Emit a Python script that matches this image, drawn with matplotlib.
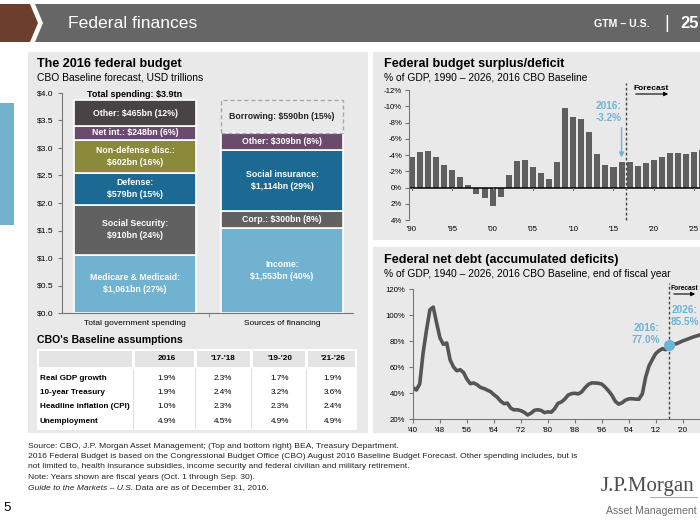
import matplotlib
matplotlib.use('Agg')
import matplotlib.pyplot as plt
from matplotlib.patches import Rectangle, Polygon

plt.rcParams['font.family'] = ['Liberation Sans', 'DejaVu Sans']

# ---------------- data ----------------
spend_labels = ["Medicare & Medicaid:\n$1,061bn (27%)", "Social Security:\n$910bn (24%)",
                "Defense:\n$579bn (15%)", "Non-defense disc.:\n$602bn (16%)",
                "Net int.: $248bn (6%)", "Other: $465bn (12%)"]
spend_values = [1.061, 0.910, 0.579, 0.602, 0.248, 0.465]
fin_labels = ["Income:\n$1,553bn (40%)", "Corp.: $300bn (8%)", "Social insurance:\n$1,114bn (29%)",
              "Other: $309bn (8%)", "Borrowing: $590bn (15%)"]
fin_values = [1.553, 0.300, 1.114, 0.309, 0.590]
bar_categories = ["Total government spending", "Sources of financing"]
budget_yticks = [0.0, 0.5, 1.0, 1.5, 2.0, 2.5, 3.0, 3.5, 4.0]

table_cols = ["2016", "'17-'18", "'19-'20", "'21-'26"]
table_rows = ["Real GDP growth", "10-year Treasury", "Headline inflation (CPI)", "Unemployment"]
table_vals = [["1.9%", "2.3%", "1.7%", "1.9%"],
              ["1.9%", "2.4%", "3.2%", "3.6%"],
              ["1.0%", "2.3%", "2.3%", "2.4%"],
              ["4.9%", "4.5%", "4.9%", "4.9%"]]

deficit_years = list(range(1990, 2027))
deficit_values = [-3.8, -4.4, -4.5, -3.8, -2.8, -2.2, -1.3, -0.3, 0.8, 1.3,
                  2.3, 1.2, -1.5, -3.3, -3.4, -2.5, -1.8, -1.1, -3.1, -9.8,
                  -8.7, -8.4, -6.8, -4.1, -2.8, -2.5, -3.2, -3.1, -2.7, -3.0,
                  -3.4, -3.7, -4.2, -4.2, -4.1, -4.4, -4.6]
deficit_xticks = [1990, 1995, 2000, 2005, 2010, 2015, 2020, 2025]
deficit_yticks = [-12, -10, -8, -6, -4, -2, 0, 2, 4]

debt_years = list(range(1940, 2027))
debt_values = [44.2, 42.3, 47.0, 70.9, 88.3, 103.9, 106.1, 93.9, 82.4, 77.4,
               78.5, 65.5, 60.1, 57.1, 57.9, 55.7, 50.6, 47.2, 47.7, 46.4,
               44.3, 43.5, 42.3, 41.0, 38.7, 36.7, 33.7, 31.8, 32.2, 28.3,
               27.0, 27.1, 26.4, 25.1, 23.1, 24.5, 26.7, 27.1, 26.6, 24.9,
               25.5, 25.2, 27.9, 32.1, 33.1, 35.3, 38.4, 39.5, 39.8, 39.3,
               40.8, 44.0, 46.6, 47.8, 47.7, 47.5, 46.8, 44.5, 41.6, 38.2,
               33.6, 31.4, 32.5, 34.5, 35.5, 35.6, 35.3, 35.2, 39.3, 52.3,
               60.9, 65.9, 70.4, 72.6, 74.1, 73.3, 77.0, 77.5, 77.8, 78.9,
               80.1, 81.0, 82.0, 83.0, 83.8, 84.6, 85.5]
debt_xticks = [1940, 1948, 1956, 1964, 1972, 1980, 1988, 1996, 2004, 2012, 2020]
debt_yticks = [20, 40, 60, 80, 100, 120]

# ---------------- styling ----------------
W, H = 700, 525
PANEL = '#e9e9e9'
LB = '#70b2cf'
GR = '#616161'
DB = '#1c6a93'
OL = '#8b8a3b'
PU = '#6a4a6d'
DK = '#4a4343'
ANN = '#6cb4d6'
spend_colors = [LB, GR, DB, OL, PU, DK]
fin_colors = [LB, GR, DB, PU, 'none']
AX = '#777777'
FN = 6.1

fig = plt.figure(figsize=(7, 5.25), dpi=100)
fig.patch.set_facecolor('white')


def rect_px(x0, y0, x1, y1):
    return [x0 / W, 1 - y1 / H, (x1 - x0) / W, (y1 - y0) / H]


bg = fig.add_axes([0, 0, 1, 1], zorder=0)
bg.set_xlim(0, W)
bg.set_ylim(H, 0)
bg.axis('off')

# header
bg.add_patch(Polygon([(0, 4), (30, 4), (38, 23), (30, 42), (0, 42)], closed=True, color='#6b3e2e', lw=0))
bg.add_patch(Polygon([(35, 4), (700, 4), (700, 42), (35, 42), (43, 23)], closed=True, color='#666666', lw=0))
bg.text(68, 23, 'Federal finances', color='white', fontsize=12.6, va='center', ha='left')
bg.text(650, 24, 'GTM – U.S.', color='white', fontsize=7.6, fontweight='bold', va='center', ha='right')
bg.text(667, 23, '|', color='white', fontsize=13, va='center', ha='center')
bg.text(680, 23, '25', color='white', fontsize=12, fontweight='bold', va='center', ha='left')

# side blue tab
bg.add_patch(Rectangle((0, 103), 14, 122, color='#72b2cc', lw=0))

# panels
bg.add_patch(Rectangle((28, 52), 340, 381, color=PANEL, lw=0))
bg.add_patch(Rectangle((373, 52), 330, 188, color=PANEL, lw=0))
bg.add_patch(Rectangle((373, 247), 330, 186, color=PANEL, lw=0))

# titles
bg.text(37, 64, 'The 2016 federal budget', fontsize=9.1, fontweight='bold', va='center')
bg.text(37, 78, 'CBO Baseline forecast, USD trillions', fontsize=7.4, va='center')
bg.text(384, 64, 'Federal budget surplus/deficit', fontsize=9.1, fontweight='bold', va='center')
bg.text(384, 78, '% of GDP, 1990 – 2026, 2016 CBO Baseline', fontsize=7.4, va='center')
bg.text(384, 260, 'Federal net debt (accumulated deficits)', fontsize=9.1, fontweight='bold', va='center')
bg.text(384, 274, '% of GDP, 1940 – 2026, 2016 CBO Baseline, end of fiscal year', fontsize=7.4, va='center')

# ---------------- budget bars ----------------
ax1 = fig.add_axes(rect_px(62, 93, 353, 313), zorder=2)
ax1.set_facecolor('none')
ax1.set_xlim(-0.497, 1.483)
ax1.set_ylim(0, 4)
bw = 0.83
bottom = 0.0
for v, c, lab in zip(spend_values, spend_colors, spend_labels):
    ax1.bar(0, v, bw, bottom=bottom, color=c, edgecolor='white', lw=1.2)
    ax1.text(0, bottom + v / 2, lab, color='white', fontsize=6.3, fontweight='bold',
             ha='center', va='center', linespacing=1.45)
    bottom += v
ax1.text(0, bottom + 0.02, 'Total spending: $3.9tn', fontsize=6.5, fontweight='bold',
         ha='center', va='bottom')
bottom = 0.0
for v, c, lab in zip(fin_values, fin_colors, fin_labels):
    if c == 'none':
        ax1.bar(1, v, bw, bottom=bottom, facecolor='none', edgecolor='#a8a8a8', lw=1.0,
                linestyle=(0, (3, 2)))
        ax1.text(1, bottom + v / 2, lab, color='#222222', fontsize=6.3, fontweight='bold',
                 ha='center', va='center')
    else:
        ax1.bar(1, v, bw, bottom=bottom, color=c, edgecolor='white', lw=1.2)
        ax1.text(1, bottom + v / 2, lab, color='white', fontsize=6.3, fontweight='bold',
                 ha='center', va='center', linespacing=1.45)
    bottom += v
ax1.set_yticks(budget_yticks)
ax1.set_yticklabels([f'${t:.1f}' for t in budget_yticks])
ax1.set_xticks([0, 1])
ax1.set_xticklabels(bar_categories)
ax1.set_xticks([0.5], minor=True)
ax1.tick_params(axis='x', which='major', length=0, pad=5, labelsize=6.0)
ax1.tick_params(axis='x', which='minor', length=3, color=AX, direction='out')
ax1.tick_params(axis='y', length=3, color=AX, labelsize=6.0, pad=3)
for s in ['top', 'right']:
    ax1.spines[s].set_visible(False)
for s in ['left', 'bottom']:
    ax1.spines[s].set_color(AX)
    ax1.spines[s].set_linewidth(0.8)

# ---------------- table ----------------
bg.text(37, 340, "CBO's Baseline assumptions", fontsize=7.6, fontweight='bold', va='center')
bg.add_patch(Rectangle((37, 349), 320, 81, color='white', lw=0))
bounds = [39, 133, 195, 251, 306, 355]
for i in range(len(bounds) - 1):
    x0 = bounds[i] + (0 if i == 0 else 1.5)
    x1 = bounds[i + 1] - (0 if i == len(bounds) - 2 else 1.5)
    bg.add_patch(Rectangle((x0, 351), x1 - x0, 16, color='#e4e4e4', lw=0))
for b in bounds[1:-1]:
    bg.plot([b, b], [369, 428], color='#e0e0e0', lw=0.8)
col_centers = [167, 223, 280, 333]
for cx, lab in zip(col_centers, table_cols):
    bg.text(cx, 359, lab, fontsize=5.9, fontweight='bold', ha='center', va='center')
row_ys = [378, 392.5, 407, 421.5]
for ry, rl, vals in zip(row_ys, table_rows, table_vals):
    bg.text(40, ry, rl, fontsize=5.9, fontweight='bold', ha='left', va='center')
    for cx, v in zip(col_centers, vals):
        bg.text(cx, ry, v, fontsize=5.9, ha='center', va='center')

# ---------------- deficit chart ----------------
ax2 = fig.add_axes(rect_px(409, 90, 707, 220), zorder=2)
ax2.set_facecolor('none')
ax2.bar(deficit_years, deficit_values, 0.75, color='#5f5f5f', lw=0)
ax2.set_xlim(1989.63, 2026.6)
ax2.set_ylim(4, -12)
ax2.axhline(0, color='black', lw=1.1)
ax2.set_yticks(deficit_yticks)
ax2.set_yticklabels([f'{t}%' for t in deficit_yticks])
ax2.tick_params(axis='y', length=3, color=AX, labelsize=5.6, pad=2)
ax2.set_xticks(deficit_xticks)
ax2.tick_params(axis='x', length=0, labelbottom=False)
for s in ['top', 'right', 'bottom']:
    ax2.spines[s].set_visible(False)
ax2.spines['left'].set_color(AX)
ax2.spines['left'].set_linewidth(0.8)
for yr in deficit_xticks:
    ax2.plot([yr, yr], [0, 0.35], color=AX, lw=0.8)
sec = ax2.secondary_xaxis(0.0)
sec.set_xticks(deficit_xticks)
sec.set_xticklabels([f"'{str(y)[2:]}" for y in deficit_xticks])
sec.tick_params(length=0, labelsize=5.6, pad=4)
sec.spines['bottom'].set_visible(False)
ax2.axvline(2016.5, ymin=0, ymax=1.055, ls=(0, (2, 1.6)), color='#444444', lw=1.0, clip_on=False)
ax2.annotate('', xy=(2016, deficit_values[deficit_years.index(2016)] - 0.15), xytext=(2016, -7.7),
             arrowprops=dict(arrowstyle='-|>', color=ANN, lw=1.0, mutation_scale=7))
bg.text(609, 112, '2016:\n-3.2%', color=ANN, fontsize=7.2, fontweight='bold',
        ha='center', va='center', linespacing=1.2)
bg.text(633, 88, 'Forecast', fontsize=6.0, fontweight='bold', ha='left', va='center')
bg.annotate('', xy=(671, 94), xytext=(633, 94),
            arrowprops=dict(arrowstyle='-|>', color='black', lw=0.8, mutation_scale=6))

# ---------------- debt chart ----------------
ax3 = fig.add_axes(rect_px(413, 289, 703, 419), zorder=2)
ax3.set_facecolor('none')
ax3.plot(debt_years, debt_values, color='#555555', lw=2.6, solid_capstyle='round')
ax3.set_xlim(1940, 2026)
ax3.set_ylim(20, 120)
ax3.set_yticks(debt_yticks)
ax3.set_yticklabels([f'{t}%' for t in debt_yticks])
ax3.set_xticks(debt_xticks)
ax3.set_xticklabels([f"'{str(y)[2:]}" for y in debt_xticks])
ax3.tick_params(axis='both', length=3, color=AX, labelsize=5.6, pad=2.5)
for s in ['top', 'right']:
    ax3.spines[s].set_visible(False)
for s in ['left', 'bottom']:
    ax3.spines[s].set_color(AX)
    ax3.spines[s].set_linewidth(0.8)
ax3.axvline(2016, ymin=0, ymax=1.046, ls=(0, (2, 1.6)), color='#444444', lw=1.0, clip_on=False)
ax3.plot(2016, debt_values[debt_years.index(2016)], 'o', ms=7, color=ANN, zorder=5)
bg.text(646, 334, '2016:\n77.0%', color=ANN, fontsize=7.2, fontweight='bold',
        ha='center', va='center', linespacing=1.2)
bg.text(685, 316, '2026:\n85.5%', color=ANN, fontsize=7.2, fontweight='bold',
        ha='center', va='center', linespacing=1.2)
bg.text(670.5, 288, 'Forecast', fontsize=4.8, fontweight='bold', ha='left', va='center')
bg.annotate('', xy=(698, 294), xytext=(671, 294),
            arrowprops=dict(arrowstyle='-|>', color='black', lw=0.8, mutation_scale=6))

# ---------------- footnotes ----------------
fn = ["Source: CBO, J.P. Morgan Asset Management; (Top and bottom right) BEA, Treasury Department.",
      "2016 Federal Budget is based on the Congressional Budget Office (CBO) August 2016 Baseline Budget Forecast. Other spending includes, but is",
      "not limited to, health insurance subsidies, income security and federal civilian and military retirement.",
      "Note: Years shown are fiscal years (Oct. 1 through Sep. 30)."]
fy = [446, 456.5, 467, 477.5]
for t, y in zip(fn, fy):
    bg.text(28, y, t, fontsize=FN, va='center', ha='left', color='#222222')
it = bg.text(28, 488, 'Guide to the Markets – U.S.', fontsize=FN, style='italic', va='center',
             ha='left', color='#222222')
bg.annotate(' Data are as of December 31, 2016.', xy=(1, 0), xycoords=it, fontsize=FN,
            va='bottom', ha='left', color='#222222')

bg.text(3, 508, '5', fontsize=9.5, va='center', ha='left')
bg.text(601, 487, 'J.P.Morgan', family=['Liberation Serif', 'DejaVu Serif'], fontsize=15,
        color='#4d4d4d', va='center', ha='left')
bg.plot([650, 697], [497, 497], color='#9a9a9a', lw=0.6)
bg.text(606, 511, 'Asset Management', fontsize=7.6, color='#6d6d6d', va='center', ha='left')

fig.savefig('out.png', dpi=100)
